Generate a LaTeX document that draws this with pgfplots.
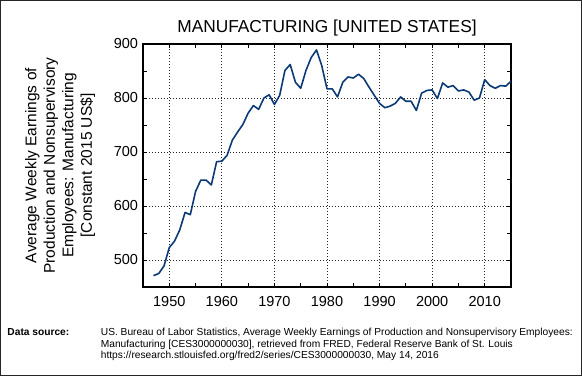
\documentclass[border=0pt]{standalone}
\usepackage{fontspec}
\setmainfont{Liberation Sans}
\usepackage{pgfplots}
\pgfplotsset{compat=1.18}
\definecolor{linecol}{RGB}{12,58,118}
\begin{document}
\begin{tikzpicture}
\begin{axis}[
  scale only axis, width=368pt, height=243pt,
  xmin=1945, xmax=2015, ymin=450, ymax=900,
  xtick={1950,1960,...,2010},
  ytick={500,600,...,900},
  minor x tick num=1, minor y tick num=1,
  tick align=inside, xtick pos=both, ytick pos=both,
  major tick length=4pt, minor tick length=4pt,
  major tick style={black, line width=0.9pt},
  minor tick style={black, line width=0.9pt},
  axis line style={line width=1.1pt},
  grid=major,
  major grid style={black!85, line width=0.8pt, dash pattern=on 1pt off 2pt},
  /pgf/number format/assume math mode=true,
  xticklabel style={font=\fontsize{14.5}{17}\selectfont, /pgf/number format/1000 sep={}, yshift=-5.5pt},
  yticklabel style={font=\fontsize{14.5}{17}\selectfont, xshift=-1.5pt},
  ylabel={Average Weekly Earnings of\\Production and Nonsupervisory\\Employees: Manufacturing\\{[Constant 2015 US\$]}},
  ylabel style={at={(axis description cs:-0.225,0.5)}, anchor=center, align=center, font=\fontsize{15.5}{18.5}\selectfont},
]
\addplot[linecol, line width=1.6pt, line join=round] coordinates {
(1947,471) (1948,475) (1949,489) (1950,523) (1951,535) (1952,556) (1953,588) (1954,584)
(1955,627) (1956,648) (1957,648) (1958,639) (1959,682) (1960,683) (1961,694) (1962,722)
(1963,737) (1964,751) (1965,772) (1966,786) (1967,779) (1968,800) (1969,806) (1970,788)
(1971,805) (1972,851) (1973,862) (1974,829) (1975,818) (1976,851) (1977,875) (1978,889)
(1979,860) (1980,817) (1981,817) (1982,802) (1983,829) (1984,839) (1985,837) (1986,844)
(1987,836) (1988,820) (1989,805) (1990,790) (1991,782) (1992,785) (1993,790) (1994,802)
(1995,794) (1996,794) (1997,777) (1998,809) (1999,814) (2000,815) (2001,799) (2002,828)
(2003,820) (2004,823) (2005,813) (2006,815) (2007,811) (2008,796) (2009,800) (2010,834)
(2011,823) (2012,818) (2013,823) (2014,822) (2015,831)
};
\end{axis}
\draw[line width=1.3pt, black!85] (-142.35pt,-88.35pt) rectangle (438.35pt,286.35pt);
\node[anchor=base, inner sep=0pt, font=\fontsize{17.3}{19}\selectfont] at (184pt,255pt) {MANUFACTURING [UNITED STATES]};
\node[anchor=base west, inner sep=0pt, font=\fontsize{10.2}{12}\selectfont\bfseries] at (-135.7pt,-48.5pt) {Data source:};
\node[anchor=base west, inner sep=0pt, font=\fontsize{10.2}{12}\selectfont] at (-42.3pt,-48.5pt) {US. Bureau of Labor Statistics, Average Weekly Earnings of Production and Nonsupervisory Employees:};
\node[anchor=base west, inner sep=0pt, font=\fontsize{10.2}{12}\selectfont] at (-42.3pt,-60.2pt) {Manufacturing [CES3000000030], retrieved from FRED, Federal Reserve Bank of St. Louis};
\node[anchor=base west, inner sep=0pt, font=\fontsize{10.2}{12}\selectfont] at (-42.3pt,-71.9pt) {https://research.stlouisfed.org/fred2/series/CES3000000030, May 14, 2016};
\end{tikzpicture}
\end{document}
